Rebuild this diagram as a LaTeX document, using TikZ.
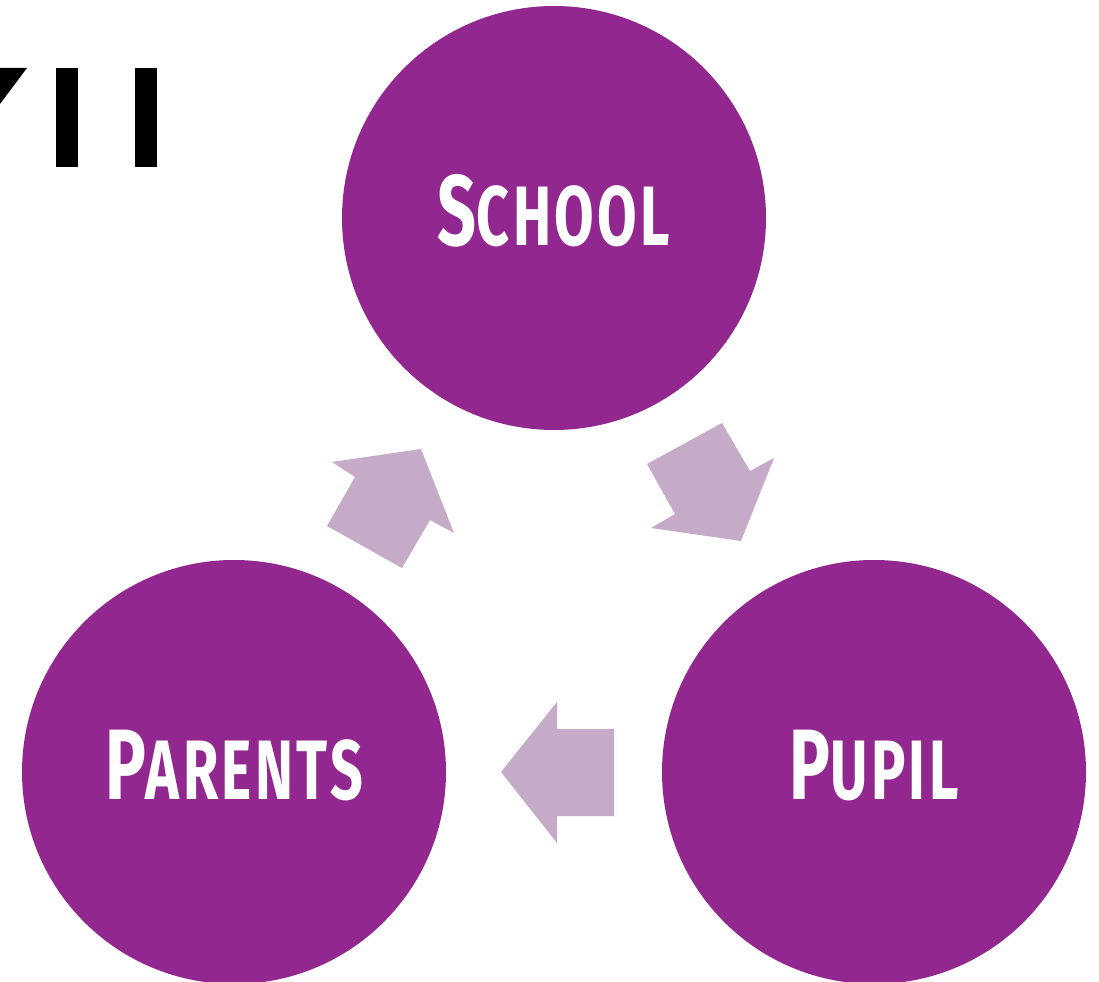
\documentclass[tikz,border=0pt]{standalone}
\usepackage{fontspec}
\newfontfamily\labfont[FakeStretch=0.68,LetterSpace=4]{Fira Sans}
\definecolor{circpurple}{HTML}{92278F}
\definecolor{arrowlilac}{HTML}{C5ABC7}
\tikzset{
  bubble/.style={circle, fill=circpurple, minimum size=424*0.02cm, inner sep=0pt, text=white, font=\labfont\bfseries},
  blockarrow/.style={fill=arrowlilac, draw=none},
  titlefrag/.style={fill=black, draw=none}
}
\newcommand{\biglab}[2]{{\fontsize{57}{57}\selectfont #1}{\fontsize{48}{48}\selectfont #2}}
\begin{document}
\begin{tikzpicture}[x=0.02cm, y=-0.02cm]
\useasboundingbox (0,0) rectangle (1099,982);
\begin{scope}
\clip (0,0) rectangle (1099,982);
% title fragments
\fill[titlefrag] (0,68) -- (27,68) -- (0,104) -- cycle;
\fill[titlefrag] (56,68) rectangle (78,167);
\fill[titlefrag] (135,68) rectangle (157,167);
% circles
\node[bubble] (school) at (554,218) {\raisebox{9pt}{\biglab{S}{CHOOL}}};
\node[bubble] (parents) at (234,772) {\raisebox{8pt}{\biglab{P}{ARENTS}}};
\node[bubble] (pupil) at (874,772) {\raisebox{8pt}{\biglab{P}{UPIL}}};
% block arrows
\fill[blockarrow] (332,462) -- (421,449) -- (454,533) -- (430,520) -- (402,568) -- (327,526) -- (355,477) -- cycle;
\fill[blockarrow] (722,423) -- (647,464) -- (675,514) -- (651,528) -- (741,541) -- (774,458) -- (750,471) -- cycle;
\fill[blockarrow] (501,772) -- (557,702) -- (557,729) -- (614,729) -- (614,816) -- (557,816) -- (557,843) -- cycle;
\end{scope}
\end{tikzpicture}
\end{document}
